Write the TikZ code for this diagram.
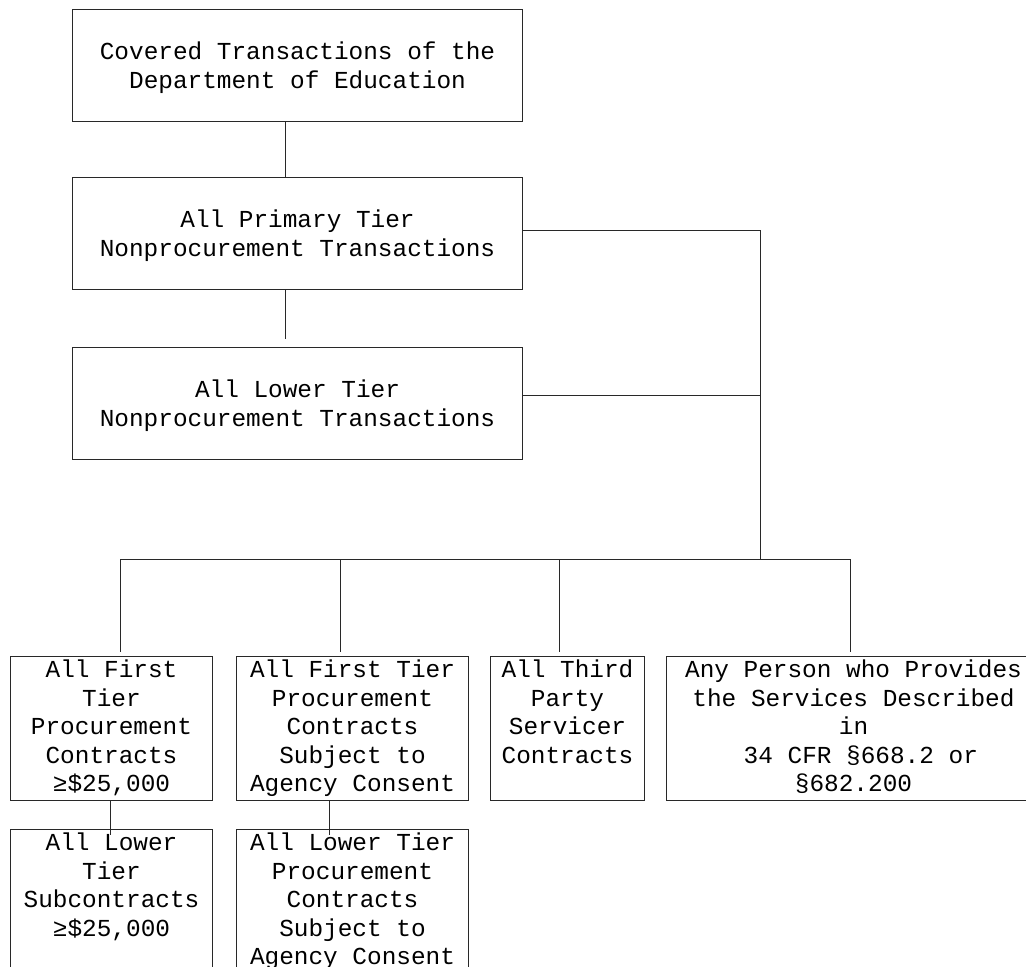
\documentclass[tikz,border=0pt]{standalone}
\usepackage{fontspec}
\usepackage{tikz}
\newfontfamily\couriertxt{Liberation Mono}
\definecolor{edline}{RGB}{40,40,40}
\tikzset{
  every node/.style={font=\couriertxt\fontsize{24.4}{28.5}\selectfont, execute at begin node={\spaceskip=14.64pt\xspaceskip=14.64pt\relax}},
  tierbox/.style={draw=edline, line width=1pt, anchor=north west, text width=450pt, align=flush center, inner sep=0pt, text height=50pt, text depth=62pt},
  contrbox/.style={draw=edline, line width=1pt, anchor=north west, align=flush center, inner sep=0pt, text height=21pt, text depth=123pt},
  subbox/.style={contrbox, text depth=170pt},
  link/.style={draw=edline, line width=1pt}
}

\begin{document}
\begin{tikzpicture}[x=1pt, y=-1pt]
            \useasboundingbox (0,0) rectangle (1026,967);
            % Transazioni principali
            \node[tierbox] (cov) at (72,9) {Covered Transactions of the\\Department of Education};
            \node[tierbox] (prim) at (72,177) {All Primary Tier\\Nonprocurement Transactions};
            \node[tierbox] (low) at (72,347) {All Lower Tier\\Nonprocurement Transactions};

            % Contratti
            \node[contrbox, text width=202pt] (fpc) at (10,656) {All First\\Tier\\Procurement\\Contracts\\≥\$25,000};
            \node[contrbox, text width=232pt] (fptc) at (236,656) {All First Tier\\Procurement\\Contracts\\Subject to\\Agency Consent};
            \node[contrbox, text width=154pt] (tps) at (490,656) {All Third\\Party\\Servicer\\Contracts};
            \node[contrbox, text width=374pt] (anyp) at (666,656) {Any Person who Provides\\the Services Described\\in\\\hspace*{14.64pt}34 CFR §668.2 or\\§682.200};

            % Subcontratti
            \node[subbox, text width=202pt] (lts) at (10,829) {All Lower\\Tier\\Subcontracts\\≥\$25,000};
            \node[subbox, text width=232pt] (ltpc) at (236,829) {All Lower Tier\\Procurement\\Contracts\\Subject to\\Agency Consent};

            % Linee
            \coordinate (busR) at (760,559);
            \coordinate (busL) at (120,559);
            \coordinate (d2) at (340,559);
            \coordinate (d3) at (559,559);
            \coordinate (d4) at (850,559);
            \draw[link] ([xshift=-12pt]cov.south) -- ([xshift=-12pt]prim.north);
            \draw[link, shorten >=8pt] ([xshift=-12pt]prim.south) -- ([xshift=-12pt]low.north);
            \draw[link] ([yshift=3pt]prim.east) -| (busR);
            \draw[link] ([yshift=8pt]low.east) -- ([yshift=8pt]low.east -| busR);
            \draw[link] (busL) -- (d4);
            \draw[link, shorten >=4pt] (busL) -- (busL |- fpc.north);
            \draw[link, shorten >=4pt] (d2) -- (d2 |- fptc.north);
            \draw[link, shorten >=4pt] (d3) -- (d3 |- tps.north);
            \draw[link, shorten >=4pt] (d4) -- (d4 |- anyp.north);
            \draw[link] ([xshift=-1pt]fpc.south) -- ([xshift=-1pt,yshift=-6pt]lts.north);
            \draw[link] ([xshift=-23pt]fptc.south) -- ([xshift=-23pt,yshift=-6pt]ltpc.north);
        \end{tikzpicture}
\end{document}
